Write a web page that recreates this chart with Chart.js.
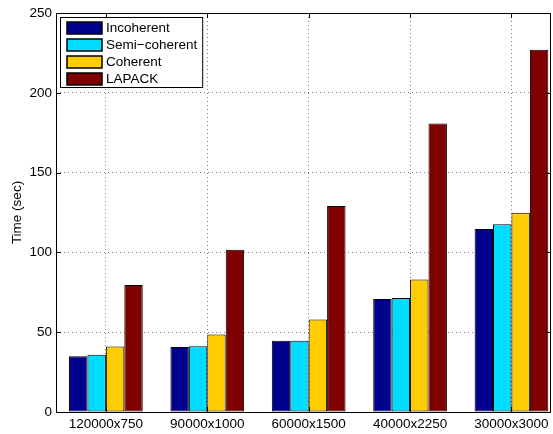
<!DOCTYPE html>
<html>
<head>
<meta charset="utf-8">
<script src="https://cdn.jsdelivr.net/npm/chart.js@4.4.0/dist/chart.umd.min.js"></script>
<style>
html, body { margin: 0; padding: 0; background: #fff; }
#wrap { width: 553px; height: 434px; position: relative; }
</style>
</head>
<body>
<div id="wrap"><canvas id="chart_timeSummary"></canvas></div>
<script>
var categories = ['120000x750', '90000x1000', '60000x1500', '40000x2250', '30000x3000'];
var seriesNames = ['Incoherent', 'Semi\u2212coherent', 'Coherent', 'LAPACK'];
var incoherent = [35.0, 40.8, 44.6, 70.8, 114.6];
var semiCoherent = [35.8, 41.2, 44.6, 71.5, 117.7];
var coherent = [41.0, 48.5, 58.0, 83.0, 124.8];
var lapack = [79.6, 101.6, 129.0, 180.8, 226.9];
var yTicks = [0, 50, 100, 150, 200, 250];

var colors = ['#00008f', '#00dcff', '#ffcc00', '#800000'];
var FONT = 'Liberation Sans, Arial, Helvetica, sans-serif';
var FSIZE = 13.5;

function toPoints(values) {
    return values.map(function(v, i) { return { x: i + 1, y: v }; });
}

var allSeries = [incoherent, semiCoherent, coherent, lapack];

// MATLAB-like box with inward tick marks
var boxPlugin = {
    id: 'matlabBox',
    afterDatasetsDraw: function(chart) {
        var ctx = chart.ctx, a = chart.chartArea;
        var xs = chart.scales.x, ys = chart.scales.y;
        ctx.save();
        ctx.setLineDash([]);
        ctx.strokeStyle = '#000';
        ctx.lineWidth = 1;
        ctx.strokeRect(Math.round(a.left) + 0.5, Math.round(a.top) + 0.5,
            Math.round(a.right - a.left) - 1, Math.round(a.bottom - a.top));
        ctx.beginPath();
        yTicks.forEach(function(t) {
            var y = Math.round(ys.getPixelForValue(t)) + 0.5;
            ctx.moveTo(a.left, y); ctx.lineTo(a.left + 5, y);
            ctx.moveTo(a.right, y); ctx.lineTo(a.right - 5, y);
        });
        categories.forEach(function(c, i) {
            var x = Math.round(xs.getPixelForValue(i + 1)) + 0.5;
            ctx.moveTo(x, a.bottom); ctx.lineTo(x, a.bottom - 5);
            ctx.moveTo(x, a.top); ctx.lineTo(x, a.top + 5);
        });
        ctx.stroke();
        ctx.restore();
    }
};

// legend box drawn in the top-left of the plot area
var legendPlugin = {
    id: 'insideLegend',
    afterDraw: function(chart) {
        var ctx = chart.ctx, a = chart.chartArea;
        var ds = chart.data.datasets;
        ctx.save();
        ctx.font = FSIZE + 'px ' + FONT;
        var maxW = 0;
        ds.forEach(function(d) { maxW = Math.max(maxW, ctx.measureText(d.label).width); });
        var bx = a.left + 4.5, by = a.top + 4.5;
        var bw = 51 + maxW, bh = 70;
        ctx.fillStyle = '#fff';
        ctx.fillRect(bx, by, bw, bh);
        ctx.strokeStyle = '#000';
        ctx.lineWidth = 1;
        ctx.strokeRect(bx, by, bw, bh);
        ds.forEach(function(d, i) {
            var top = Math.round(a.top) + 9 + i * 17;
            ctx.fillStyle = d.backgroundColor;
            ctx.fillRect(a.left + 11, top, 35, 12);
            ctx.lineWidth = 1.5;
            ctx.strokeStyle = '#000';
            ctx.strokeRect(a.left + 11, top, 35, 12);
            ctx.fillStyle = '#000';
            ctx.textBaseline = 'middle';
            ctx.textAlign = 'left';
            ctx.fillText(d.label, a.left + 50, top + 6.5);
        });
        ctx.restore();
    }
};

var chart_timeSummary = new Chart(document.getElementById('chart_timeSummary'), {
    type: 'bar',
    data: {
        datasets: allSeries.map(function(vals, k) {
            return {
                label: seriesNames[k],
                data: toPoints(vals),
                backgroundColor: colors[k],
                borderColor: '#000',
                borderWidth: 1,
                borderSkipped: false,
                categoryPercentage: 0.727,
                barPercentage: 1.0
            };
        })
    },
    options: {
        animation: false,
        responsive: true,
        maintainAspectRatio: false,
        layout: { padding: { left: 0, top: 13, right: 2, bottom: 0 } },
        plugins: {
            legend: { display: false },
            tooltip: { enabled: false }
        },
        scales: {
            x: {
                type: 'linear',
                min: 0.508,
                max: 5.39,
                offset: false,
                grid: {
                    offset: false,
                    drawTicks: false,
                    color: 'rgba(0,0,0,0.5)',
                    lineWidth: 1
                },
                border: { display: false, dash: [1, 3] },
                ticks: {
                    stepSize: 1,
                    includeBounds: false,
                    autoSkip: false,
                    maxRotation: 0,
                    padding: 4,
                    color: '#000',
                    font: { family: FONT, size: FSIZE },
                    callback: function(value) {
                        return categories[value - 1] || '';
                    }
                },
                afterFit: function(scale) { scale.height = 22; }
            },
            y: {
                min: 0,
                max: 250,
                grid: {
                    drawTicks: false,
                    color: 'rgba(0,0,0,0.5)',
                    lineWidth: 1
                },
                border: { display: false, dash: [1, 3] },
                ticks: {
                    stepSize: 50,
                    padding: 4,
                    color: '#000',
                    font: { family: FONT, size: FSIZE }
                },
                title: {
                    display: true,
                    text: 'Time (sec)',
                    color: '#000',
                    font: { family: FONT, size: FSIZE },
                    padding: { top: 9, bottom: 0 }
                },
                afterFit: function(scale) { scale.width = 56; }
            }
        }
    },
    plugins: [boxPlugin, legendPlugin]
});
</script>
</body>
</html>
